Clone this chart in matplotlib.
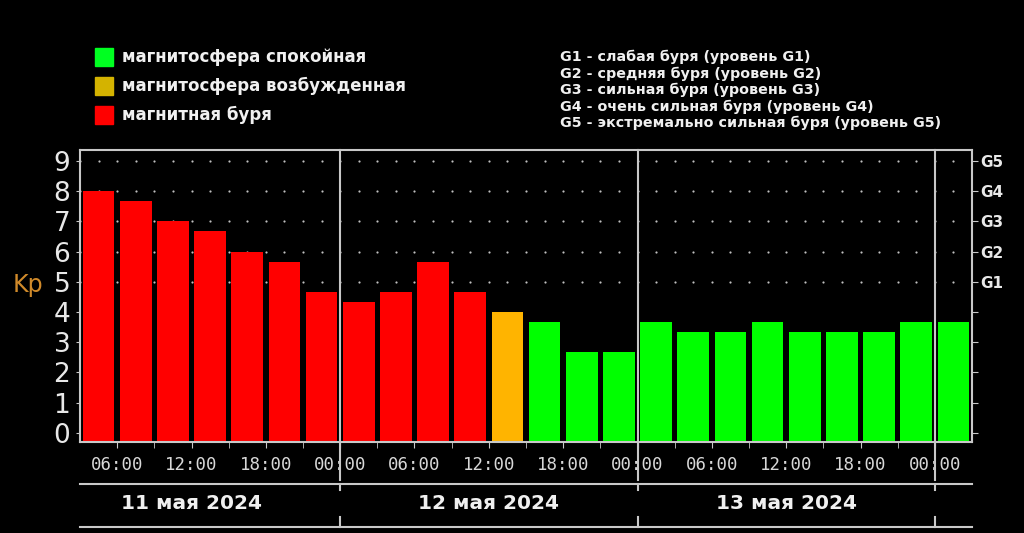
import numpy as np
import matplotlib
matplotlib.use("Agg")
import matplotlib.pyplot as plt
import matplotlib.transforms as mtransforms
from matplotlib.patches import Rectangle

# Kp, 3-hour intervals starting 11 May 2024 03:00
kp = [8.0, 7.67, 7.0, 6.67, 6.0, 5.67, 4.67,
      4.33, 4.67, 5.67, 4.67, 4.0, 3.67, 2.67, 2.67,
      3.67, 3.33, 3.33, 3.67, 3.33, 3.33, 3.33, 3.67,
      3.67]
status = ['s'] * 11 + ['e'] + ['q'] * 12
colors = {'q': '#00ff00', 'e': '#ffb400', 's': '#ff0000'}
hours = np.arange(len(kp)) * 3 + 4.5      # bar centres, hours since 11 May 00:00
time_labels = ['06:00', '12:00', '18:00', '00:00'] * 3
days = ['11 мая 2024', '12 мая 2024', '13 мая 2024']
g_labels = ['G1', 'G2', 'G3', 'G4', 'G5']
legend_items = [('магнитосфера спокойная', '#00ff21'),
                ('магнитосфера возбужденная', '#d4b300'),
                ('магнитная буря', '#ff0000')]
g_desc = ['G1 - слабая буря (уровень G1)',
          'G2 - средняя буря (уровень G2)',
          'G3 - сильная буря (уровень G3)',
          'G4 - очень сильная буря (уровень G4)',
          'G5 - экстремально сильная буря (уровень G5)']

W, H = 1024, 533
fig = plt.figure(figsize=(W / 100, H / 100), dpi=100, facecolor='black')
ax = fig.add_axes([80 / W, 1 - 442 / H, 892 / W, 292 / H])
ax.set_facecolor('black')
ymin, ymax = -0.3, 9.36
ax.set_xlim(3, 75)
ax.set_ylim(ymin, ymax)

gray = '#c8c8c8'

# dotted grid
gx = np.arange(3, 75.1, 1.5)
for lev in range(5, 10):
    ax.scatter(gx, [lev] * len(gx), s=2.5, color='#c0c0c0', zorder=1, lw=0)

ax.bar(hours, np.array(kp) - ymin, bottom=ymin, width=2.55,
       color=[colors[s] for s in status], zorder=2)

for sp in ax.spines.values():
    sp.set_color(gray)
    sp.set_linewidth(1.5)

ax.set_yticks(range(10))
ax.set_yticklabels([str(i) for i in range(10)], fontsize=19, color='#e8e8e8')
ax.tick_params(axis='y', colors=gray, length=3, pad=4, labelcolor='#e8e8e8')

ax.set_xticks(np.arange(6, 73, 3), minor=True)
ax.set_xticks(np.arange(6, 73, 6))
ax.set_xticklabels(time_labels, family='DejaVu Sans Mono', fontsize=12.5,
                   color='#d8d8d8')
ax.tick_params(axis='x', which='both', colors=gray, length=4, pad=6,
               labelcolor='#d8d8d8')

ax2 = ax.twinx()
ax2.set_ylim(ymin, ymax)
ax2.set_yticks(range(10))
ax2.set_yticklabels([''] * 5 + g_labels, fontsize=11, fontweight='bold',
                    color='#e8e8e8')
ax2.tick_params(axis='y', colors=gray, length=4, pad=2, labelcolor='#e8e8e8')
for sp in ax2.spines.values():
    sp.set_visible(False)

trans = mtransforms.blended_transform_factory(ax.transData, ax.transAxes)
for d in (24, 48, 72):
    ax.plot([d, d], [1, -0.13], color=gray, lw=1.5, transform=trans,
            clip_on=False, zorder=3)
    ax.plot([d, d], [-0.144, -0.166], color=gray, lw=1.5, transform=trans,
            clip_on=False)
    ax.plot([d, d], [-0.291, -0.257], color=gray, lw=1.5, transform=trans,
            clip_on=False)
for yy in (-0.144, -0.291):
    ax.plot([3, 75], [yy, yy], color=gray, lw=1.5, transform=trans,
            clip_on=False)
for i, d in enumerate(days):
    ax.text(12 + 24 * i, -0.209, d, transform=trans, ha='center',
            va='center', fontsize=14.5, fontweight='bold', color='#f0f0f0')

fig.text(28 / W, 1 - 285 / H, 'Kp', color='#d08a2a', fontsize=17,
         ha='center', va='center')

for i, (lab, c) in enumerate(legend_items):
    y = 57 + 29 * i
    fig.add_artist(Rectangle((95 / W, 1 - (y + 9) / H), 18 / W, 18 / H,
                             color=c, transform=fig.transFigure))
    fig.text(122 / W, 1 - y / H, lab, color='#f0f0f0', fontsize=12,
             fontweight='bold', va='center')

for i, lab in enumerate(g_desc):
    fig.text(560 / W, 1 - (57 + 16.5 * i) / H, lab, color='#f0f0f0',
             fontsize=10.3, fontweight='bold', va='center')

fig.savefig('out.png', dpi=100, facecolor='black')
